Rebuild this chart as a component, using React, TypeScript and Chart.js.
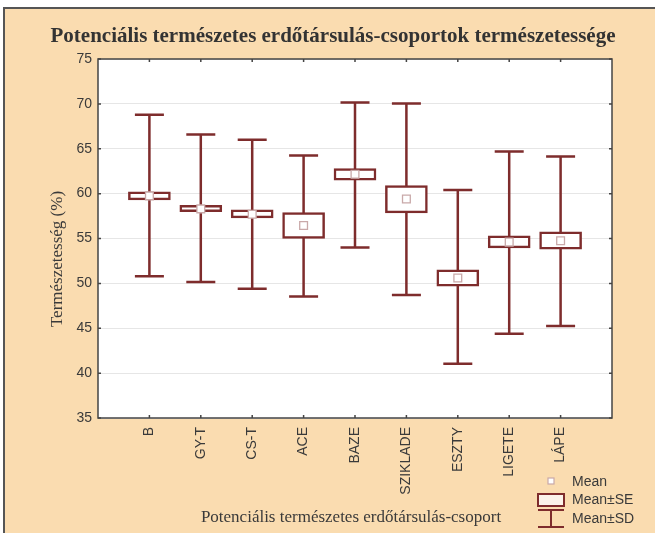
import React, { useEffect, useRef } from "react";
import { Chart, registerables } from "chart.js";

Chart.register(...registerables);

const categories = ["B", "GY-T", "CS-T", "ACE", "BAZE", "SZIKLADE", "ESZTY", "LIGETE", "LÁPE"];
const means = [59.75, 58.3, 57.7, 56.45, 62.15, 59.4, 50.6, 54.6, 54.75];
const seLow = [59.3, 58.0, 57.3, 55.0, 61.5, 57.85, 49.7, 53.95, 53.8];
const seHigh = [60.2, 58.7, 58.2, 57.9, 62.8, 60.9, 51.5, 55.3, 55.75];
const sdLow = [50.8, 50.15, 49.4, 48.55, 54.0, 48.7, 41.05, 44.4, 45.25];
const sdHigh = [68.8, 66.6, 66.0, 64.25, 70.15, 70.05, 60.4, 64.7, 64.15];
const yTicks = [35, 40, 45, 50, 55, 60, 65, 70, 75];

const titleText = "Potenciális természetes erdőtársulás-csoportok természetessége";
const yTitle = "Természetesség (%)";
const xTitle = "Potenciális természetes erdőtársulás-csoport";
const legendLabels = ["Mean", "Mean±SE", "Mean±SD"];

const RED = "#7e2c2c";
const PEACH = "#fadcb0";
const FRAME = "#555555";
const TEXT = "#3a3a3a";

const decorPlugin = {
  id: "decor",
  beforeDraw(chart: any) {
    const { ctx, chartArea } = chart;
    const W = chart.width;
    const H = chart.height;
    ctx.save();
    ctx.fillStyle = "#ffffff";
    ctx.fillRect(0, 0, W, H);
    ctx.fillStyle = PEACH;
    ctx.fillRect(3, 7, W - 3, H - 7);
    ctx.strokeStyle = FRAME;
    ctx.lineWidth = 2;
    ctx.beginPath();
    ctx.moveTo(3, 8);
    ctx.lineTo(W, 8);
    ctx.moveTo(4, 7);
    ctx.lineTo(4, H);
    ctx.stroke();
    ctx.fillStyle = "#ffffff";
    ctx.fillRect(chartArea.left, chartArea.top, chartArea.right - chartArea.left, chartArea.bottom - chartArea.top);
    ctx.restore();
  },
  beforeDatasetsDraw(chart: any) {
    const { ctx } = chart;
    const xs = chart.scales.x;
    const ys = chart.scales.y;
    ctx.save();
    ctx.strokeStyle = RED;
    ctx.lineWidth = 2.5;
    const cap = 14.5;
    categories.forEach((_, i) => {
      const x = xs.getPixelForValue(i + 1);
      const yTop = ys.getPixelForValue(sdHigh[i]);
      const yBot = ys.getPixelForValue(sdLow[i]);
      ctx.beginPath();
      ctx.moveTo(x, yTop);
      ctx.lineTo(x, yBot);
      ctx.moveTo(x - cap, yTop);
      ctx.lineTo(x + cap, yTop);
      ctx.moveTo(x - cap, yBot);
      ctx.lineTo(x + cap, yBot);
      ctx.stroke();
    });
    ctx.restore();
  },
  afterDraw(chart: any) {
    const { ctx, chartArea } = chart;
    const xs = chart.scales.x;
    const ys = chart.scales.y;
    const { left, right, top, bottom } = chartArea;
    ctx.save();
    // plot frame
    ctx.strokeStyle = "#444444";
    ctx.lineWidth = 1.5;
    ctx.strokeRect(left, top, right - left, bottom - top);
    // inward ticks
    ctx.lineWidth = 1.5;
    ctx.beginPath();
    yTicks.forEach((v) => {
      const y = ys.getPixelForValue(v);
      ctx.moveTo(left, y);
      ctx.lineTo(left + 3, y);
      ctx.moveTo(right, y);
      ctx.lineTo(right - 3, y);
    });
    categories.forEach((_, i) => {
      const x = xs.getPixelForValue(i + 1);
      ctx.moveTo(x, bottom);
      ctx.lineTo(x, bottom - 3);
      ctx.moveTo(x, top);
      ctx.lineTo(x, top + 3);
    });
    ctx.stroke();

    // title
    ctx.fillStyle = "#333333";
    ctx.font = 'bold 21px "Liberation Serif"';
    ctx.textAlign = "center";
    ctx.textBaseline = "alphabetic";
    ctx.fillText(titleText, 333, 42);

    // y title
    ctx.save();
    ctx.translate(58, 259);
    ctx.rotate(-Math.PI / 2);
    ctx.font = '17px "Liberation Serif"';
    ctx.fillStyle = TEXT;
    ctx.textAlign = "center";
    ctx.textBaseline = "middle";
    ctx.fillText(yTitle, 0, 0);
    ctx.restore();

    // x title
    ctx.font = '17px "Liberation Serif"';
    ctx.fillStyle = TEXT;
    ctx.textAlign = "center";
    ctx.textBaseline = "alphabetic";
    ctx.fillText(xTitle, 351, 522);

    // legend
    const lx = 551;
    ctx.fillStyle = "#ffffff";
    ctx.strokeStyle = "#c9a9a9";
    ctx.lineWidth = 1.2;
    ctx.fillRect(lx - 3, 478, 6, 6);
    ctx.strokeRect(lx - 3, 478, 6, 6);

    ctx.fillStyle = "#fbf3ea";
    ctx.fillRect(538, 494, 26, 12);
    ctx.strokeStyle = RED;
    ctx.lineWidth = 2;
    ctx.strokeRect(538, 494, 26, 12);

    ctx.beginPath();
    ctx.moveTo(538, 510);
    ctx.lineTo(564, 510);
    ctx.moveTo(lx, 510);
    ctx.lineTo(lx, 527);
    ctx.moveTo(538, 527);
    ctx.lineTo(564, 527);
    ctx.stroke();

    ctx.font = '14px "Liberation Sans"';
    ctx.fillStyle = TEXT;
    ctx.textAlign = "left";
    ctx.textBaseline = "middle";
    ctx.fillText(legendLabels[0], 572, 482);
    ctx.fillText(legendLabels[1], 572, 500);
    ctx.fillText(legendLabels[2], 572, 519);
    ctx.restore();
  },
};

export default function App() {
  const ref = useRef<HTMLCanvasElement | null>(null);
  useEffect(() => {
    document.body.style.margin = "0";
    if (!ref.current) return;
    const chart = new Chart(ref.current, {
      type: "bar",
      data: {
        datasets: [
          {
            type: "scatter",
            label: "Mean",
            data: means.map((m, i) => ({ x: i + 1, y: m })),
            pointStyle: "rect",
            pointRadius: 5.5,
            pointBackgroundColor: "#ffffff",
            pointBorderColor: "#c9a9a9",
            pointBorderWidth: 1.3,
            order: 0,
          } as any,
          {
            type: "bar",
            label: "Mean±SE",
            data: categories.map((_, i) => ({ x: i + 1, y: [seLow[i], seHigh[i]] })) as any,
            backgroundColor: "#ffffff",
            borderColor: RED,
            borderWidth: 2.5,
            borderSkipped: false,
            barThickness: 42,
            grouped: false,
            order: 1,
          },
        ],
      },
      options: {
        animation: false,
        responsive: false,
        devicePixelRatio: 1,
        layout: { padding: { top: 59, right: 43, left: 0, bottom: 0 } },
        plugins: {
          legend: { display: false },
          title: { display: false },
          tooltip: { enabled: false },
        },
        scales: {
          x: {
            type: "linear",
            min: 0,
            max: 10,
            offset: false,
            afterBuildTicks: (axis: any) => {
              axis.ticks = categories.map((_, i) => ({ value: i + 1 }));
            },
            afterFit: (scale: any) => {
              scale.height = 115;
            },
            grid: { display: false, drawTicks: false, offset: false },
            border: { display: false },
            ticks: {
              autoSkip: false,
              minRotation: 90,
              maxRotation: 90,
              padding: 9,
              color: TEXT,
              font: { family: "Liberation Sans", size: 14 },
              callback: (v: any) => categories[Number(v) - 1] ?? "",
            },
          },
          y: {
            type: "linear",
            min: 35,
            max: 75,
            afterBuildTicks: (axis: any) => {
              axis.ticks = yTicks.map((v) => ({ value: v }));
            },
            afterFit: (scale: any) => {
              scale.width = 98;
            },
            grid: { color: "#e6e6e6", lineWidth: 1, drawTicks: false },
            border: { display: false },
            ticks: {
              padding: 6,
              color: TEXT,
              font: { family: "Liberation Sans", size: 14 },
            },
          },
        },
      } as any,
      plugins: [decorPlugin],
    });
    return () => chart.destroy();
  }, []);
  return (
    <div style={{ width: 655, height: 533 }}>
      <canvas ref={ref} width={655} height={533} style={{ display: "block" }} />
    </div>
  );
}
